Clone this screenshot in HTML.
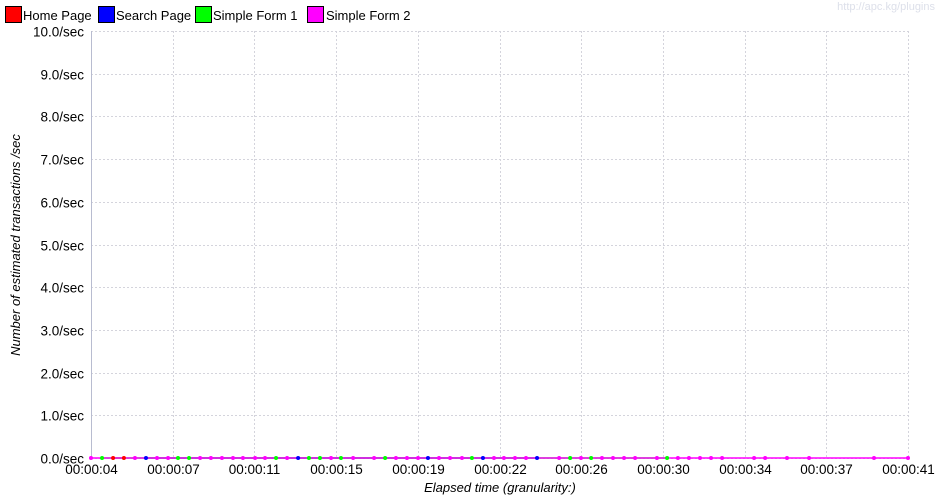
<!DOCTYPE html>
<html><head><meta charset="utf-8"><style>
body{margin:0;background:#fff;}
svg{display:block;font-family:"Liberation Sans",sans-serif;}
</style></head><body>
<svg id="chart" width="940" height="500">
<rect width="940" height="500" fill="#fff"/>
<text x="935" y="10" text-anchor="end" font-size="11" fill="#dde0ea">http://apc.kg/plugins</text>
<g>
<g><rect x="5.5" y="6.5" width="16" height="16" fill="#ff0000" stroke="#000"/><text x="23" y="20" font-size="13">Home Page</text></g>
<g><rect x="98.5" y="6.5" width="16" height="16" fill="#0000ff" stroke="#000"/><text x="116" y="20" font-size="13">Search Page</text></g>
<g><rect x="195.5" y="6.5" width="16" height="16" fill="#00ff00" stroke="#000"/><text x="213" y="20" font-size="13">Simple Form 1</text></g>
<g><rect x="307.5" y="6.5" width="16" height="16" fill="#ff00ff" stroke="#000"/><text x="326" y="20" font-size="13">Simple Form 2</text></g>
</g>
<g id="grid"></g>
<g id="axes"></g>
<g id="series"></g>
<text transform="translate(20,245) rotate(-90)" text-anchor="middle" font-size="13" font-style="italic">Number of estimated transactions /sec</text>
<text x="500" y="492" text-anchor="middle" font-size="13" font-style="italic">Elapsed time (granularity:)</text>
</svg>
<script>
const xTickLabels=["00:00:04","00:00:07","00:00:11","00:00:15","00:00:19","00:00:22","00:00:26","00:00:30","00:00:34","00:00:37","00:00:41"];
const yTickValues=[0,1,2,3,4,5,6,7,8,9,10];
const homeTimes=[5.25,5.74];
const homeValues=[0,0];
const searchTimes=[6.74,13.63,19.51,22.0,24.45];
const searchValues=[0,0,0,0,0];
const form1Times=[4.75,8.19,8.69,12.63,14.12,14.62,15.57,17.57,21.5,25.95,26.9,30.34];
const form1Values=[0,0,0,0,0,0,0,0,0,0,0,0];
const form2Times=[4.25,6.24,7.24,7.74,9.19,9.68,10.18,10.68,11.13,11.68,12.13,13.13,15.12,16.12,17.07,18.06,18.56,19.06,20.01,20.51,21.05,22.5,22.95,23.45,23.95,25.45,26.44,27.39,27.89,28.39,28.89,29.88,30.83,31.33,31.83,32.33,32.83,34.28,34.78,35.77,36.77,39.71,41.25];
const form2Values=form2Times.map(()=>0);

const X0=91,X1=908,Y0=458,Y1=31,T0=4.25,T1=41.25,V0=0,V1=10;
const sx=t=>X0+(t-T0)/(T1-T0)*(X1-X0);
const sy=v=>Y0-(v-V0)/(V1-V0)*(Y0-Y1);
const NS="http://www.w3.org/2000/svg";
function mk(tag,attrs,parent){const e=document.createElementNS(NS,tag);for(const k in attrs)e.setAttribute(k,attrs[k]);parent.appendChild(e);return e;}
const grid=document.getElementById('grid'),axes=document.getElementById('axes'),ser=document.getElementById('series');
yTickValues.forEach(v=>{
  const y=Math.round(sy(v))+0.5;
  const l=mk('line',{x1:X0,x2:X1,y1:y,y2:y,stroke:'#d4d4dc','stroke-dasharray':'2,2'},grid);
  
  
  const t=mk('text',{x:84,y:y+5,'text-anchor':'end','font-size':'13.5'},axes);
  t.textContent=v.toFixed(1)+'/sec';
  
  
});
xTickLabels.forEach((lab,i)=>{
  const x=Math.round(X0+i*(X1-X0)/(xTickLabels.length-1))+0.5;
  const l=mk('line',{x1:x,x2:x,y1:Y1,y2:Y0,stroke:'#d4d4dc','stroke-dasharray':'2,2'},grid);
  
  
  const t=mk('text',{x:x,y:474,'text-anchor':'middle','font-size':'13.5'},axes);
  t.textContent=lab;
  
  
});
const ax=mk('line',{x1:X0+0.5,x2:X0+0.5,y1:Y1,y2:Y0,stroke:'#b8bcd0'},axes);


const allSeries=[["home-page",homeTimes,homeValues,"#ff0000"],["search-page",searchTimes,searchValues,"#0000ff"],["simple-form-1",form1Times,form1Values,"#00ff00"],["simple-form-2",form2Times,form2Values,"#ff00ff"]];
allSeries.forEach(([name,ts,vs,c])=>{
  const pts=ts.map((t,i)=>sx(t).toFixed(1)+','+sy(vs[i]).toFixed(1)).join(' ');
  const pl=mk('polyline',{points:pts,fill:'none',stroke:c,'stroke-width':1.5},ser);
  
  
});
allSeries.forEach(([name,ts,vs,c])=>{
  ts.forEach((t,i)=>{
    const d=mk('circle',{cx:sx(t),cy:sy(vs[i]),r:2,fill:c},ser);
    
    
  });
});
</script>
</body></html>
